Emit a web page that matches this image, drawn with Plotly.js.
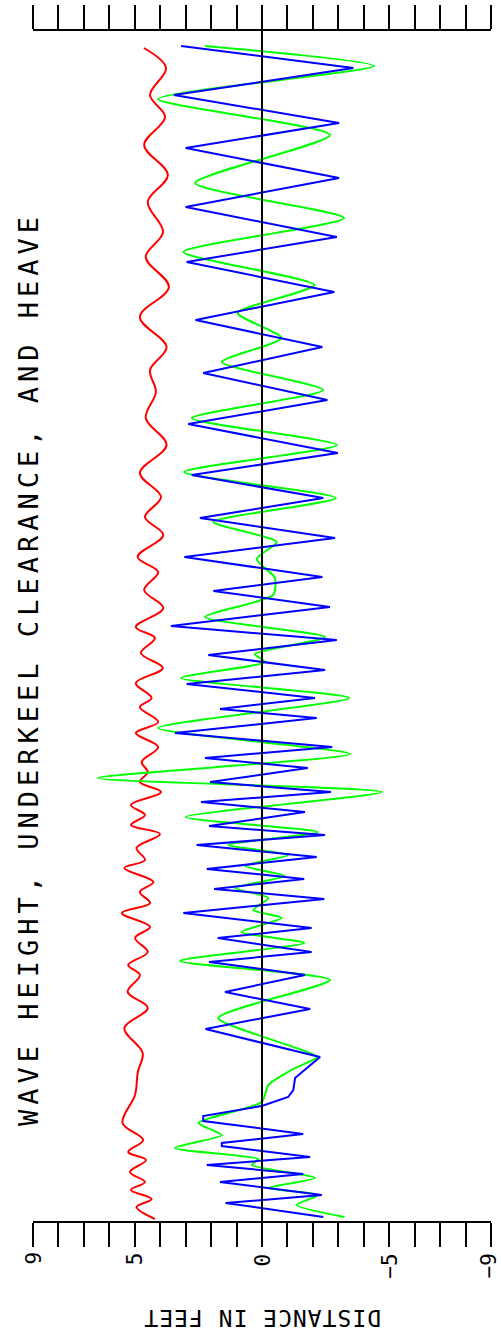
<!DOCTYPE html>
<html>
<head>
<meta charset="utf-8">
<script src="https://cdn.plot.ly/plotly-3.0.1.min.js"></script>
<style>html,body{margin:0;padding:0;background:#fff;}#chart{width:501px;height:1338px;}</style>
</head>
<body>
<div id="chart"></div>
<script>
// time (vertical, increasing downward) and distance in feet
var blueTime = [15,37,64,92,117,147,176,206,231,261,289,316,342,369,393,422,444,467,487,507,526,546,560,576,595,609,624,639,653,667,678,687,702,716,727,737,751,761,771,781,795,804,814,826,838,848,858,868,882,897,907,921,931,944,961,978,998,1026,1047,1059,1066,1075,1085,1090,1103,1112,1115,1126,1134,1143,1151,1164,1172,1186];
var blueFeet = [3.18,-3.59,3.46,-3.03,3.00,-3.03,3.00,-2.94,2.96,-2.84,2.61,-2.37,2.31,-2.57,2.90,-2.98,2.76,-2.41,2.44,-2.87,3.05,-2.37,1.91,-2.67,3.58,-2.94,2.11,-2.48,2.96,-2.08,1.65,-2.15,3.42,-2.76,2.24,-1.80,2.04,-2.71,2.40,-1.69,2.08,-2.48,2.57,-2.15,2.17,-1.66,1.88,-2.45,3.09,-1.95,1.74,-1.95,2.08,-1.69,1.45,-1.89,2.22,-2.28,-1.30,-1.23,-1.03,0.01,2.31,2.31,-1.62,1.58,1.58,-1.89,2.17,-1.62,1.65,-2.35,1.43,-2.41];

var greenTime = [15,35,68,104,152,187,221,254,282,307,331,359,387,414,441,467,491,511,528,547,564,586,606,623,631,647,667,697,723,747,761,786,801,814,824,835,845,857,867,879,887,901,912,930,949,987,1026,1037,1054,1071,1092,1104,1117,1128,1134,1147,1157,1164,1174,1186];
var greenFeet = [2.24,-4.40,4.09,-2.67,2.63,-3.22,3.09,-2.06,0.96,-0.77,1.58,-2.41,2.76,-2.94,3.05,-2.90,1.91,-0.58,0.21,-0.51,-0.44,2.24,-2.48,0.28,-0.12,3.18,-3.42,4.08,-3.46,6.46,-4.71,3.00,-2.19,1.32,-1.03,0.67,-0.90,1.06,-0.25,0.34,-0.77,0.80,-1.66,3.22,-2.67,1.72,-2.15,-1.30,-0.25,0.01,2.50,1.58,3.42,0.15,0.40,-2.08,-0.25,-2.21,-1.36,-3.24];

var redTime = [17,37,64,86,114,144,171,201,226,256,286,316,339,361,387,414,442,466,486,504,526,541,559,577,596,607,622,637,652,667,676,691,702,716,731,741,751,761,774,784,794,803,817,829,837,851,861,872,882,896,907,921,934,944,961,977,997,1022,1041,1064,1092,1109,1121,1129,1141,1151,1159,1168,1176,1188];
var redFeet = [4.64,3.77,4.40,3.81,4.63,3.70,4.49,3.89,4.57,3.66,4.80,3.75,4.40,4.17,4.57,3.75,4.80,3.97,4.60,3.88,4.89,4.08,4.63,3.88,4.96,4.21,4.76,3.90,4.96,4.34,4.80,4.08,4.96,4.08,4.73,4.49,4.80,3.97,5.15,4.60,5.15,4.01,4.93,4.60,5.41,4.27,4.80,4.40,5.51,4.40,4.99,4.49,5.26,4.80,5.28,4.49,5.41,4.69,4.88,4.99,5.48,4.67,5.26,4.56,5.19,4.60,5.15,4.34,4.93,4.21];

var tickValues = [9,5,0,-5,-9];
var tickLabels = ["9","5","0","\u22125","\u22129"];
var titleText = "WAVE HEIGHT, UNDERKEEL CLEARANCE, AND HEAVE";
var axisTitleText = "DISTANCE IN FEET";

var traces = [
  {x: redFeet, y: redTime, mode: 'lines', line: {color: '#ff0000', width: 2, shape: 'spline', smoothing: 1}, hoverinfo: 'skip'},
  {x: greenFeet, y: greenTime, mode: 'lines', line: {color: '#00ff00', width: 2, shape: 'spline', smoothing: 0.6}, hoverinfo: 'skip'},
  {x: blueFeet, y: blueTime, mode: 'lines', line: {color: '#0000ff', width: 2}, hoverinfo: 'skip'}
];

var FONT = 'DejaVu Sans Mono, monospace';
var annotations = [];
var labelTop = [1251,1251,1253,1253,1253];
var labelShift = [0,0,0,0,-3];
for (var i = 0; i < tickValues.length; i++) {
  annotations.push({
    x: tickValues[i], xref: 'x', y: (1221 - labelTop[i]) / 1190, yref: 'paper',
    text: tickLabels[i], textangle: -90, showarrow: false,
    xanchor: 'center', yanchor: 'top', borderpad: 0, xshift: labelShift[i],
    font: {family: FONT, size: 21, color: '#000'}
  });
}
annotations.push({
  x: 0, xref: 'x', y: (1221 - 1318) / 1190, yref: 'paper',
  text: '<span style="letter-spacing:1px">' + axisTitleText + '</span>',
  textangle: 180, showarrow: false, xanchor: 'center', yanchor: 'middle',
  font: {family: FONT, size: 23, color: '#000'}
});
annotations.push({
  x: (28 - 33) / 458, xref: 'paper', y: (1221 - 669) / 1190, yref: 'paper',
  text: '<span style="letter-spacing:5px">' + titleText + '</span>',
  textangle: -90, showarrow: false, xanchor: 'center', yanchor: 'middle',
  font: {family: FONT, size: 27, color: '#000'}
});

var layout = {
  width: 501, height: 1338,
  margin: {l: 33, r: 10, t: 31, b: 117, pad: 0},
  paper_bgcolor: '#fff', plot_bgcolor: '#fff',
  showlegend: false,
  xaxis: {
    range: [9, -9], tick0: 0, dtick: 1, ticks: 'outside', ticklen: 24, tickwidth: 2, tickcolor: '#000',
    showline: true, linecolor: '#000', linewidth: 2, mirror: 'ticks',
    showticklabels: false, showgrid: false, zeroline: false, fixedrange: true
  },
  yaxis: {
    range: [1190, 0], showline: false, showgrid: false, zeroline: false,
    showticklabels: false, ticks: '', fixedrange: true
  },
  shapes: [{type: 'line', xref: 'x', yref: 'paper', x0: 0, x1: 0, y0: 0, y1: 1, layer: 'above', line: {color: '#000', width: 2}}],
  annotations: annotations
};

Plotly.newPlot('chart', traces, layout, {staticPlot: true, displayModeBar: false});
</script>
</body>
</html>
